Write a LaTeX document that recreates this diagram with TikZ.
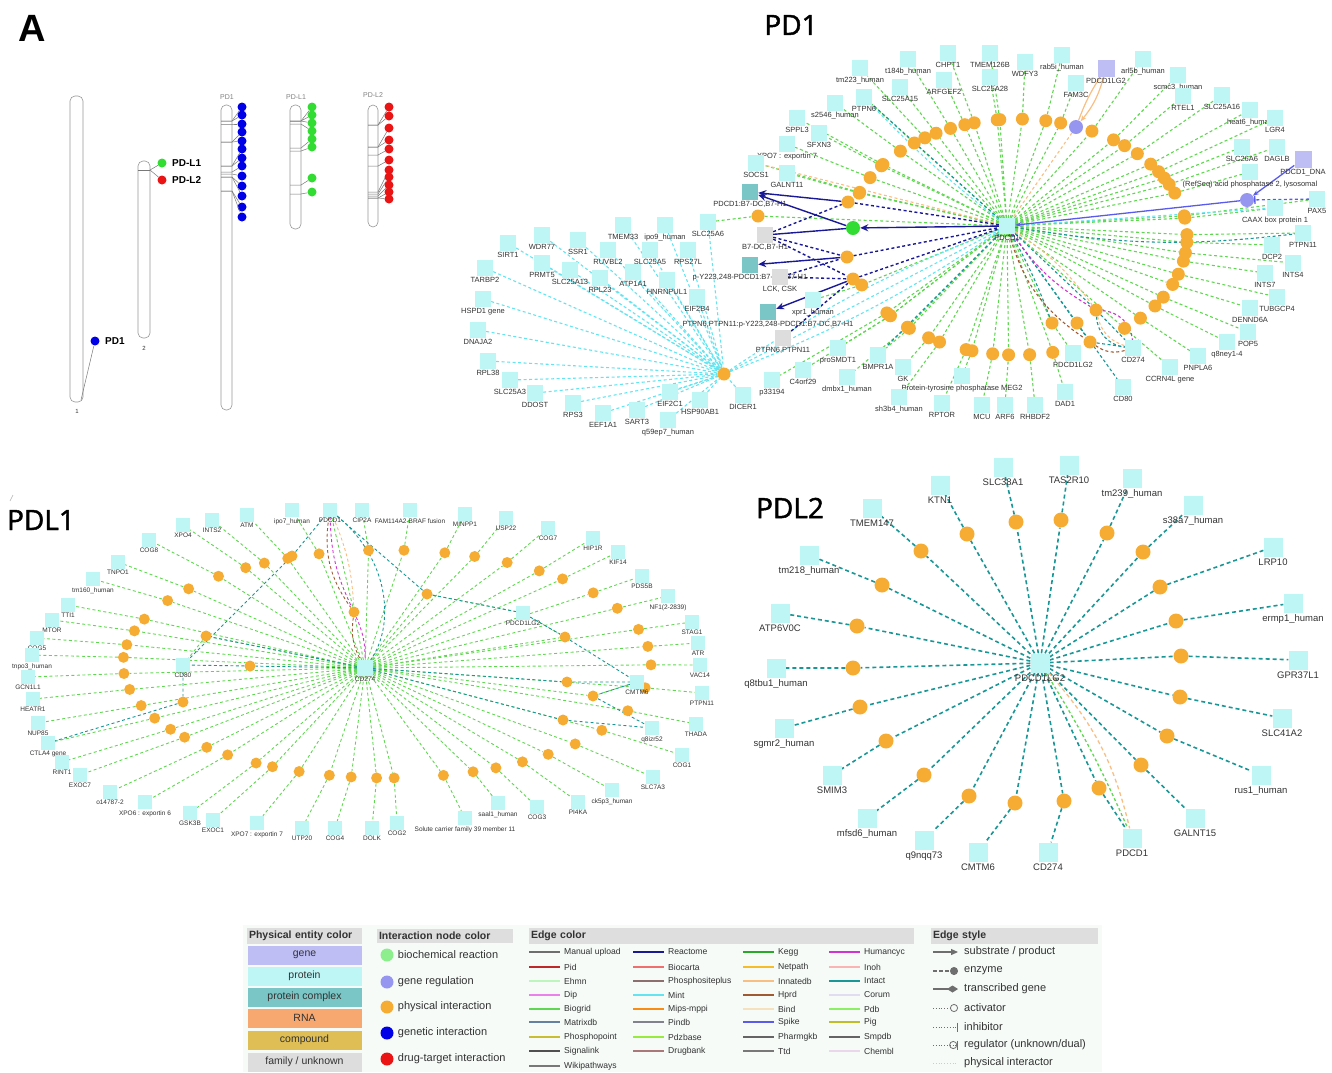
\documentclass[tikz,border=0pt]{standalone}
\usepackage{fontspec}
\setmainfont{Liberation Sans}
\newfontfamily\ttlfont[FakeBold=1.6]{Open Sans}
\usetikzlibrary{positioning,arrows.meta}

\definecolor{protc}{RGB}{190,245,245}
\definecolor{cplxc}{RGB}{122,197,197}
\definecolor{famc}{RGB}{221,221,221}
\definecolor{genec}{RGB}{190,190,245}
\definecolor{rnac}{RGB}{247,168,112}
\definecolor{cmpc}{RGB}{222,190,85}
\definecolor{orngc}{RGB}{246,172,50}
\definecolor{regc}{RGB}{150,150,240}
\definecolor{biochc}{RGB}{140,238,140}
\definecolor{rxnc}{RGB}{50,220,50}
\definecolor{genc}{RGB}{0,0,230}
\definecolor{drgtc}{RGB}{235,20,20}
\definecolor{txtc}{RGB}{50,50,50}
\definecolor{hdc}{RGB}{222,222,222}
\definecolor{legbg}{RGB}{246,251,248}
\definecolor{chrc}{RGB}{150,150,150}
% edge colours
\definecolor{manc}{RGB}{110,110,110}
\definecolor{pidc}{RGB}{190,40,40}
\definecolor{ehmc}{RGB}{190,245,190}
\definecolor{dipc}{RGB}{235,130,235}
\definecolor{biogc}{RGB}{95,215,80}
\definecolor{matc}{RGB}{100,130,160}
\definecolor{phpc}{RGB}{200,190,50}
\definecolor{sigc}{RGB}{80,80,80}
\definecolor{wikc}{RGB}{120,120,120}
\definecolor{reac}{RGB}{25,25,150}
\definecolor{bioc}{RGB}{240,110,110}
\definecolor{phsc}{RGB}{140,110,110}
\definecolor{mintc}{RGB}{100,228,240}
\definecolor{mipc}{RGB}{250,140,20}
\definecolor{pindc}{RGB}{130,130,140}
\definecolor{pdzc}{RGB}{150,235,60}
\definecolor{drgc}{RGB}{170,120,120}
\definecolor{keggc}{RGB}{40,170,40}
\definecolor{netc}{RGB}{245,190,40}
\definecolor{innc}{RGB}{248,190,130}
\definecolor{hprdc}{RGB}{160,90,50}
\definecolor{bindc}{RGB}{245,225,190}
\definecolor{spkc}{RGB}{90,90,235}
\definecolor{phgc}{RGB}{100,100,100}
\definecolor{ttdc}{RGB}{120,120,120}
\definecolor{humc}{RGB}{210,50,210}
\definecolor{inohc}{RGB}{250,180,180}
\definecolor{intc}{RGB}{25,150,150}
\definecolor{corc}{RGB}{225,220,240}
\definecolor{pdbc}{RGB}{140,240,100}
\definecolor{pigc}{RGB}{190,190,40}
\definecolor{smpc}{RGB}{100,100,100}
\definecolor{chmc}{RGB}{235,215,235}

\pgfdeclarelayer{bg}
\pgfsetlayers{bg,main}

\begin{document}
\begin{tikzpicture}[x=1pt,y=-1pt,
  prot/.style={fill=protc, minimum size=#1, inner sep=0pt}, prot/.default=16pt,
  cplx/.style={fill=cplxc, minimum size=16pt, inner sep=0pt},
  fam/.style={fill=famc, minimum size=16pt, inner sep=0pt},
  gene/.style={fill=genec, minimum size=17pt, inner sep=0pt},
  orng/.style={circle, fill=orngc, minimum size=#1, inner sep=0pt}, orng/.default=13pt,
  regn/.style={circle, fill=regc, minimum size=14pt, inner sep=0pt},
  lbl/.style={font=\fontsize{#1}{#1}\selectfont, text=txtc, inner sep=0pt}, lbl/.default=7.5,
  ttl/.style={font=\ttlfont\fontsize{28}{30}\selectfont},
  grn/.style={draw=biogc, line width=#1, dash pattern=on 3pt off 2.5pt}, grn/.default=1.1pt,
  mint/.style={draw=mintc, line width=1.1pt, dash pattern=on 3pt off 2.5pt},
  intl/.style={draw=intc, line width=#1, dash pattern=on 3pt off 2.5pt}, intl/.default=1.1pt,
  react/.style={draw=reac, line width=1.4pt, -{Stealth[length=8pt,width=7pt]}},
  reactd/.style={draw=reac, line width=1.4pt, dash pattern=on 3pt off 2.5pt},
  chrom/.style={draw=chrc, line width=0.6pt, rounded corners=5pt},
  chl/.style={draw=chrc!80!black, line width=0.5pt},
  cdot/.style={circle, minimum size=9pt, inner sep=0pt},
  lhd/.style={fill=hdc, inner xsep=2pt, minimum height=14pt, text width=#1, font=\bfseries\fontsize{10.5}{11}\selectfont, text=txtc},
  lcell/.style={minimum width=114pt, minimum height=19pt, inner sep=0pt, font=\fontsize{10.5}{11}\selectfont, text=txtc},
  ltx/.style={font=\fontsize{11}{12}\selectfont, text=txtc, inner sep=0pt},
  lsm/.style={font=\fontsize{8.6}{9}\selectfont, text=txtc, inner sep=0pt, anchor=west}]
\useasboundingbox (0,0) rectangle (1332,1072);

% ---------------- panel A: chromosomes
\node[font=\bfseries\fontsize{38}{40}\selectfont] (ttlA) at (32,28) {A};

\draw[chrom] (70,96) rectangle (83,402);
\node[lbl=6] (chr1) at (77,411) {1};
\node[cdot, fill=genc] (d1) at (95,341) {};
\node[font=\bfseries\fontsize{10}{10}\selectfont, right=2pt of d1] (d1l) {PD1};
\coordinate (c1b) at (81,400);
\draw[chl] (c1b) -- (d1);

\draw[chrom] (138,161) rectangle (150,338);
\draw[chl] (138,170) -- (150,170);
\node[lbl=6] (chr2) at (144,348) {2};
\coordinate (c2b) at (150,170);
\node[cdot, fill=rxnc] (d2) at (162,163) {};
\node[cdot, fill=drgtc] (d3) at (162,180) {};
\node[font=\bfseries\fontsize{10}{10}\selectfont, right=2pt of d2] (d2l) {PD-L1};
\node[font=\bfseries\fontsize{10}{10}\selectfont, right=2pt of d3] (d3l) {PD-L2};
\draw[chl] (c2b) -- (d2);
\draw[chl] (c2b) -- (d3);

\draw[chrom] (221,105) rectangle (232,410);
\node[lbl=7, text=gray] (cPD1) at (227,97) {PD1};
\foreach \yd/\yb [count=\n] in {107/121,115/121,124/124,132/142,141/142,149/166,158/166,166/172,176/174,186/177,196/177,207/191,217/191}{
  \node[cdot, fill=genc] (pb\n) at (242,\yd) {};
  \coordinate (pbb\n) at (232,\yb);
  \draw[chl] (221,\yb) -- (pbb\n) -- (pb\n);
}
\draw[chrom] (290,105) rectangle (301,229);
\node[lbl=7, text=gray] (cPDL1) at (296,97) {PD-L1};
\foreach \yd/\yb [count=\n] in {107/121,115/121,123/121,131/124,139/148,147/151,178/185,192/194}{
  \node[cdot, fill=rxnc] (gb\n) at (312,\yd) {};
  \coordinate (gbb\n) at (301,\yb);
  \draw[chl] (290,\yb) -- (gbb\n) -- (gb\n);
}
\draw[chrom] (368,105) rectangle (378,227);
\node[lbl=7, text=gray] (cPDL2) at (373,95) {PD-L2};
\foreach \yd/\yb [count=\n] in {107/125,116/125,128/147,140/147,149/155,160/166,170/192,177/194,185/196,192/198,199/198}{
  \node[cdot, fill=drgtc] (rb\n) at (389,\yd) {};
  \coordinate (rbb\n) at (378,\yb);
  \draw[chl] (368,\yb) -- (rbb\n) -- (rb\n);
}

% ---------------- PD1 network
\node[ttl] (tPD1) at (791,25) {PD1};
\node[prot] (pdA) at (1007,226) {};
\node[lbl, below=1pt of pdA] (pdAl) {PDCD1};

\foreach \px/\py/\nm/\txt in {860/68/tmA/tm223\_human, 908/59/tbA/t184b\_human, 948/53/chA/CHPT1,
  990/53/tnA/TMEM126B, 1025/62/wdA/WDFY3, 1062/55/rbA/rab5i\_human, 1143/59/alA/arl5b\_human,
  944/80/arA/ARFGEF2, 990/77/slA/SLC25A28, 1076/83/faA/FAM3C, 900/87/slB/SLC25A15,
  864/97/ptA/PTPN6, 835/103/ssA/s2546\_human, 797/118/spA/SPPL3, 819/133/sfA/SFXN3,
  787/144/xpA/XPO7 : exportin 7, 756/163/soA/SOCS1, 787/173/gaA/GALNT11, 1178/75/scA/scmc3\_human,
  1183/96/rtA/RTEL1, 1222/95/slC/SLC25A16, 1250/110/heA/heat6\_human, 1275/118/lgA/LGR4,
  1242/147/slD/SLC26A6, 1277/147/daA/DAGLB, 1250/172/acA/{(RefSeq) acid phosphatase 2, lysosomal},
  1317/199/paA/PAX5, 1275/208/caA/CAAX box protein 1, 1303/233/ppA/PTPN11, 1272/245/dcA/DCP2,
  1293/263/inA/INTS4, 1265/273/inB/INTS7, 1277/297/tuA/TUBGCP4, 1250/308/deA/DENND6A,
  1248/332/poA/POP5, 1227/342/qnA/q8ney1-4, 1198/356/pnA/PNPLA6, 1170/367/ccA/CCRN4L gene,
  1065/392/dmA/DAD1, 1035/405/rhA/RHBDF2, 1005/405/afA/ARF6, 982/405/mcA/MCU,
  962/376/mgA/Protein-tyrosine phosphatase MEG2, 942/403/rpA/RPTOR, 899/397/shA/sh3b4\_human,
  903/367/gkA/GK, 878/355/bmA/BMPR1A, 847/377/dxA/dmbx1\_human, 838/348/prA/proSMDT1,
  803/370/c4A/C4orf29, 772/380/p3A/p33194, 813/300/xrA/xpr1\_human}{
  \node[prot] (a\nm) at (\px,\py) {};
  \node[lbl, below=1pt of a\nm] (al\nm) {\txt};
  \pgfmathsetmacro\ang{atan2((\py-237)/118,(\px-1017)/170)}
  \pgfmathsetmacro\ox{1017+170*cos(\ang)}
  \pgfmathsetmacro\oy{237+118*sin(\ang)}
  \node[orng] (ao\nm) at (\ox,\oy) {};
  \begin{pgfonlayer}{bg}
    \draw[grn] (pdA) -- (ao\nm) -- (a\nm);
  \end{pgfonlayer}
}

% left fan
\node[orng] (hub) at (724,374) {};
\foreach \px/\py/\txt [count=\n] in {508/243/SIRT1, 542/235/WDR77, 578/240/SSR1, 623/225/TMEM33,
  665/225/ipo9\_human, 708/222/SLC25A6, 485/268/TARBP2, 542/263/PRMT5, 608/250/RUVBL2,
  650/250/SLC25A5, 688/250/RPS27L, 570/270/SLC25A13, 600/278/RPL23, 633/272/ATP1A1,
  667/280/HNRNPUL1, 697/297/EIF2B4, 483/299/HSPD1 gene, 478/330/DNAJA2, 488/361/RPL38,
  510/380/SLC25A3, 535/393/DDOST, 573/403/RPS3, 603/413/EEF1A1, 637/410/SART3,
  668/420/q59ep7\_human, 670/392/EIF2C1, 700/400/HSP90AB1, 743/395/DICER1}{
  \node[prot] (h\n) at (\px,\py) {};
  \node[lbl, below=1pt of h\n] (hl\n) {\txt};
  \begin{pgfonlayer}{bg}
    \draw[mint] (h\n) -- (hub);
  \end{pgfonlayer}
}
\node[orng] (oS6) at (758,216) {};

% reactions
\node[cplx] (c1) at (750,192) {};
\node[lbl, below=1pt of c1] (c1l) {PDCD1:B7-DC,B7-H1};
\node[fam] (g1) at (765,235) {};
\node[lbl, below=1pt of g1] (g1l) {B7-DC,B7-H1};
\node[cplx] (c2) at (750,265) {};
\node[lbl, below=1pt of c2] (c2l) {p-Y223,248-PDCD1:B7-DC,B7-H1};
\node[fam] (g2) at (780,277) {};
\node[lbl, below=1pt of g2] (g2l) {LCK, CSK};
\node[cplx] (c3) at (768,312) {};
\node[lbl, below=1pt of c3] (c3l) {PTPN6,PTPN11:p-Y223,248-PDCD1:B7-DC,B7-H1};
\node[fam] (g3) at (783,338) {};
\node[lbl, below=1pt of g3] (g3l) {PTPN6,PTPN11};
\node[orng] (r1) at (848,202) {};
\node[circle, fill=rxnc, minimum size=14pt, inner sep=0pt] (rg) at (853,228) {};
\node[orng] (r2) at (847,257) {};
\node[orng] (r3) at (853,279) {};

% gene regulation
\node[gene] (gPL2) at (1106,68) {};
\node[lbl, below=1pt of gPL2] (gPL2l) {PDCD1LG2};
\node[regn] (lr1) at (1076,127) {};
\node[gene] (gPD1) at (1303,159) {};
\node[lbl, below=1pt of gPD1] (gPD1l) {PDCD1\_DNA};
\node[regn] (lr2) at (1247,200) {};

% ligands
\node[orng] (i1) at (1096,310) {};
\node[orng] (i2) at (1077,323) {};
\node[orng] (i3) at (1052,323) {};
\node[orng] (i4) at (1090,342) {};
\node[prot] (pPL2) at (1073,353) {};
\node[lbl, below=1pt of pPL2] (pPL2l) {PDCD1LG2};
\node[prot] (pCD274) at (1133,348) {};
\node[lbl, below=1pt of pCD274] (pCD274l) {CD274};
\node[prot] (pCD80) at (1123,387) {};
\node[lbl, below=1pt of pCD80] (pCD80l) {CD80};

\begin{pgfonlayer}{bg}
  \draw[mint] (hub) to[bend left=6] (pdA);
  \draw[mint] (hub) -- (pdA);
  \draw[mint] (hub) to[bend right=6] (pdA);
  \draw[grn] (h6) -- (oS6) -- (pdA);
  \draw[intl] (pdA) -- (aptA);
  \draw[mint] (pdA) to[bend left=4] (aptA);
  \draw[intl] (pdA) to[bend right=8] (appA);
  \draw[mint] (pdA) -- (acaA);
  \draw[intl] (pdA) -- (abmA);
  \draw[draw=innc, line width=1.1pt, dash pattern=on 3pt off 2.5pt] (pdA) -- (asoA);
  % reactome
  \draw[react] (r1) -- (c1);
  \draw[react] (rg) -- (c1);
  \draw[react] (pdA) -- (rg);
  \draw[draw=reac, line width=1.4pt] (g1) -- (rg);
  \draw[react] (r2) -- (c2);
  \draw[react] (r3) -- (c3);
  \draw[reactd] (r1) -- (pdA);
  \draw[reactd] (g1) -- (r1);
  \draw[reactd] (g1) -- (r2);
  \draw[reactd] (g1) -- (r3);
  \draw[reactd] (r2) -- (pdA);
  \draw[reactd] (r3) -- (pdA);
  \draw[reactd] (g2) -- (r2);
  \draw[reactd] (g2) -- (r3);
  \draw[reactd] (g3) -- (r3);
  % regulation
  \draw[draw=innc, line width=1.2pt, -{Stealth[length=6pt]}] (gPL2) to[bend left=12] (lr1);
  \draw[draw=innc, line width=1.2pt] (gPL2) to[bend right=6] (lr1);
  \draw[draw=innc, line width=1.1pt, dash pattern=on 3pt off 2.5pt] (lr1) -- (pdA);
  \draw[draw=spkc, line width=1.3pt, -{Stealth[length=6pt]}] (gPD1) -- (lr2);
  \draw[draw=spkc, line width=1.3pt, -{Stealth[length=6pt]}] (lr2) -- (pdA);
  \draw[draw=spkc, line width=1.3pt, dash pattern=on 3pt off 2.5pt, -{Bar[width=8pt]}] (apaA) -- (lr2);
  % ligands
  \draw[grn] (pdA) -- (i3) -- (pPL2);
  \draw[intl] (pdA) to[bend left=4] (i3);
  \draw[intl] (pdA) -- (i1) -- (pCD274);
  \draw[intl] (pdA) -- (i4) -- (pCD274);
  \draw[intl] (pdA) -- (i2) -- (pCD80);
  \draw[draw=humc, line width=1.1pt, dash pattern=on 3pt off 2.5pt] (pdA) to[bend right=12] (i1);
  \draw[draw=humc, line width=1.1pt, dash pattern=on 3pt off 2.5pt] (i1) to[bend left=40] (pCD274);
  \draw[draw=hprdc, line width=1.1pt, dash pattern=on 3pt off 2.5pt] (pdA) to[bend right=20] (i4);
  \draw[draw=hprdc, line width=1.1pt, dash pattern=on 3pt off 2.5pt] (i4) to[bend right=25] (pCD274);
  \draw[draw=innc, line width=1.1pt, dash pattern=on 3pt off 2.5pt] (pdA) to[bend left=10] (i1);
  \draw[draw=innc, line width=1.1pt, dash pattern=on 3pt off 2.5pt] (i1) to[bend right=30] (pCD274);
  \draw[intl] (i1) to[bend right=40] (pCD274);
\end{pgfonlayer}

% ---------------- PDL1 network
\draw[gray!60, line width=0.6pt] (10,501) -- (13,495);
\node[ttl] (tPDL1) at (41,520) {PDL1};
\node[prot=16pt] (cB) at (365,668) {};
\node[lbl=6.5, below=1pt of cB] (cBl) {CD274};
\foreach \px/\py/\nm/\txt in {292/510/ipB/ipo7\_human, 247/515/atB/ATM, 212/520/isB/INTS2,
  183/525/xpB/XPO4, 149/540/cgB/COG8, 118/562/tnB/TNPO1, 93/579/tmB/tm160\_human, 68/605/ttB/TTI1,
  52/620/mtB/MTOR, 37/638/cfB/COG5, 32/655/tpB/tnpo3\_human, 28/677/gcB/GCN1L1, 33/699/heB/HEATR1,
  38/723/nuB/NUP85, 48/743/ctB/CTLA4 gene, 62/762/riB/RINT1, 80/775/exB/EXOC7, 110/792/okB/o14787-2,
  145/802/xsB/XPO6 : exportin 6, 190/813/gsB/GSK3B, 213/820/eoB/EXOC1, 257/823/xvB/XPO7 : exportin 7,
  302/828/utB/UTP20, 335/828/cdB/COG4, 372/828/doB/DOLK, 397/823/cbB/COG2,
  465/818/scB/Solute carrier family 39 member 11, 498/803/saB/saal1\_human, 537/807/ccB/COG3,
  578/802/piB/PI4KA, 612/790/ckB/ck5p3\_human, 653/777/svB/SLC7A3, 682/755/caB/COG1,
  696/724/thB/THADA, 702/693/pnB/PTPN11, 700/665/vaB/VAC14, 698/643/arB/ATR, 692/622/stB/STAG1,
  668/596/nfB/NF1(2-2839), 642/576/pdB/PDS5B, 618/552/kiB/KIF14, 593/538/hiB/HIP1R, 548/528/chB/COG7,
  506/518/usB/USP22, 465/514/miB/MINPP1, 410/510/faB/FAM114A2-BRAF fusion, 362/510/ciB/CIP2A}{
  \node[prot=14pt] (b\nm) at (\px,\py) {};
  \node[lbl=6.5, below=1pt of b\nm] (bl\nm) {\txt};
  \pgfmathsetmacro\ang{atan2((\py-664)/114,(\px-387)/264)}
  \pgfmathsetmacro\ox{387+264*cos(\ang)}
  \pgfmathsetmacro\oy{664+114*sin(\ang)}
  \node[orng=11pt] (bo\nm) at (\ox,\oy) {};
  \begin{pgfonlayer}{bg}
    \draw[grn=0.9pt] (cB) -- (bo\nm) -- (b\nm);
  \end{pgfonlayer}
}
\node[prot=14pt] (bPD1) at (330,510) {};
\node[lbl=6.5, below=1pt of bPD1] (bPD1l) {PDCD1};
\node[prot=14pt] (bCD80) at (183,665) {};
\node[lbl=6.5, below=1pt of bCD80] (bCD80l) {CD80};
\node[prot=14pt] (bPL2) at (523,613) {};
\node[lbl=6.5, below=1pt of bPL2] (bPL2l) {PDCD1LG2};
\node[prot=14pt] (bCM) at (637,682) {};
\node[lbl=6.5, below=1pt of bCM] (bCMl) {CMTM6};
\node[prot=14pt] (bQ8) at (652,728) {};
\node[lbl=6.5, below=1pt of bQ8] (bQ8l) {q8izr52};
\node[orng=11pt] (j1) at (354,612) {};
\node[orng=11pt] (j2) at (206,636) {};
\node[orng=11pt] (j3) at (250,666) {};
\node[orng=11pt] (j4) at (183,702) {};
\node[orng=11pt] (j5) at (427,594) {};
\node[orng=11pt] (j6) at (565,637) {};
\node[orng=11pt] (j7) at (567,682) {};
\node[orng=11pt] (j8) at (593,696) {};
\node[orng=11pt] (j9) at (563,720) {};
\node[orng=11pt] (j10) at (292,556) {};
\begin{pgfonlayer}{bg}
  \draw[grn=0.9pt] (cB) -- (j1) -- (bPD1);
  \draw[grn=0.9pt] (cB) -- (j2) -- (bCD80);
  \draw[grn=0.9pt] (cB) -- (j5) -- (bPL2);
  \draw[grn=0.9pt] (cB) -- (j6) -- (bPL2);
  \draw[grn=0.9pt] (cB) -- (j8) -- (bCM);
  \draw[intl=0.9pt] (bCD80) -- (j10) -- (bPD1);
  \draw[intl=0.9pt] (bCD80) -- (j4) -- (bctB);
  \draw[intl=0.9pt] (cB) -- (j3) -- (bCD80);
  \draw[intl=0.9pt] (cB) -- (j2);
  \draw[intl=0.9pt] (bPD1) -- (j5) -- (bPL2);
  \draw[intl=0.9pt] (bPL2) -- (j6) -- (bCM);
  \draw[intl=0.9pt] (cB) -- (j7) -- (bCM);
  \draw[intl=0.9pt] (bCM) -- (j8) -- (bQ8);
  \draw[intl=0.9pt] (cB) -- (j9) -- (bQ8);
  \draw[draw=humc, line width=0.9pt, dash pattern=on 3pt off 2.5pt] (bPD1) to[bend right=12] (j1);
  \draw[draw=humc, line width=0.9pt, dash pattern=on 3pt off 2.5pt] (j1) to[bend left=12] (cB);
  \draw[draw=hprdc, line width=0.9pt, dash pattern=on 3pt off 2.5pt] (bPD1) to[bend right=22] (j1);
  \draw[draw=hprdc, line width=0.9pt, dash pattern=on 3pt off 2.5pt] (j1) to[bend right=18] (cB);
  \draw[draw=innc, line width=0.9pt, dash pattern=on 3pt off 2.5pt] (bPD1) to[bend left=10] (j1);
  \draw[intl=0.9pt] (bPD1) .. controls (390,560) and (395,625) .. (cB);
\end{pgfonlayer}

% ---------------- PDL2 network
\node[ttl] (tPDL2) at (790,508) {PDL2};
\node[prot=19pt] (dC) at (1040,663) {};
\node[lbl=9.5, below=2pt of dC] (dCl) {PDCD1LG2};
\foreach \px/\py/\ox/\oy/\txt [count=\n] in {940/485/967/534/KTN1, 1003/467/1016/522/SLC38A1,
  1069/465/1061/520/TAS2R10, 1132/478/1107/533/tm239\_human, 1193/505/1143/552/s38a7\_human,
  1273/547/1160/587/LRP10, 1293/603/1176/621/ermp1\_human, 1298/660/1181/656/GPR37L1,
  1282/718/1180/697/SLC41A2, 1261/775/1167/736/rus1\_human, 1195/818/1141/765/GALNT15,
  1132/838/1099/788/PDCD1, 1048/852/1064/801/CD274, 978/852/1015/803/CMTM6,
  924/840/969/796/q9nqq73, 867/818/924/775/mfsd6\_human, 832/775/886/741/SMIM3,
  784/728/860/707/sgmr2\_human, 776/668/853/668/q8tbu1\_human, 780/613/857/626/ATP6V0C,
  809/555/882/585/tm218\_human, 872/508/921/551/TMEM147}{
  \node[prot=19pt] (e\n) at (\px,\py) {};
  \node[lbl=9.5, below=2pt of e\n] (el\n) {\txt};
  \node[orng=15pt] (eo\n) at (\ox,\oy) {};
  \begin{pgfonlayer}{bg}
    \draw[intl=1.6pt, dash pattern=on 4pt off 3pt] (dC) -- (eo\n) -- (e\n);
  \end{pgfonlayer}
}
\begin{pgfonlayer}{bg}
  \draw[grn=1.3pt] (dC) to[bend left=4] (e12);
  \draw[draw=innc, line width=1.3pt, dash pattern=on 4pt off 3pt] (dC) to[bend left=14] (e12);
\end{pgfonlayer}

% ---------------- legend
\fill[legbg] (243,925) rectangle (1102,1072);
\node[lhd=111pt] (hPE) at (304.5,936) {Physical entity color};
\foreach \yc/\cl/\txt [count=\n] in {955/genec/gene, 976/protc/protein, 997/cplxc/protein complex,
  1018/rnac/RNA, 1040/cmpc/compound, 1062/famc/{family / unknown}}
  \node[lcell, fill=\cl] (pe\n) at (304.5,\yc) {\txt};

\node[lhd=132pt] (hIN) at (445,936) {Interaction node color};
\foreach \yc/\cl/\txt [count=\n] in {955/biochc/biochemical reaction, 982/regc/gene regulation,
  1007/orngc/physical interaction, 1033/genc/genetic interaction, 1059/drgtc/drug-target interaction}{
  \node[circle, fill=\cl, minimum size=13pt, inner sep=0pt] (in\n) at (387,\yc) {};
  \node[ltx, right=4pt of in\n] (inl\n) {\txt};
}

\node[lhd=381pt] (hEC) at (721.5,936) {Edge color};
\foreach \xc/\yc/\cl/\txt [count=\n] in {529/952/manc/Manual upload, 529/967/pidc/Pid, 529/981/ehmc/Ehmn,
  529/995/dipc/Dip, 529/1009/biogc/Biogrid, 529/1022/matc/Matrixdb, 529/1037/phpc/Phosphopoint,
  529/1051/sigc/Signalink, 529/1066/wikc/Wikipathways,
  633/952/reac/Reactome, 633/967/bioc/Biocarta, 633/981/phsc/Phosphositeplus, 633/995/mintc/Mint,
  633/1009/mipc/Mips-mppi, 633/1022/pindc/Pindb, 633/1037/pdzc/Pdzbase, 633/1051/drgc/Drugbank,
  743/952/keggc/Kegg, 743/967/netc/Netpath, 743/981/innc/Innatedb, 743/995/hprdc/Hprd,
  743/1009/bindc/Bind, 743/1022/spkc/Spike, 743/1037/phgc/Pharmgkb, 743/1051/ttdc/Ttd,
  829/952/humc/Humancyc, 829/967/inohc/Inoh, 829/981/intc/Intact, 829/995/corc/Corum,
  829/1009/pdbc/Pdb, 829/1022/pigc/Pig, 829/1037/smpc/Smpdb, 829/1051/chmc/Chembl}{
  \draw[\cl, line width=1.3pt] (\xc,\yc) -- ++(31,0);
  \node[lsm] (ec\n) at (\xc+35,\yc) {\txt};
}

\node[lhd=163pt] (hES) at (1014.5,936) {Edge style};
\draw[manc, line width=1.2pt, -{Triangle[length=7pt,width=6pt]}] (933,952) -- (958,952);
\node[ltx, anchor=west] (es1) at (964,952) {substrate / product};
\draw[manc, line width=1.2pt, dash pattern=on 4pt off 2pt, -{Circle[length=8pt]}] (933,971) -- (958,971);
\node[ltx, anchor=west] (es2) at (964,971) {enzyme};
\draw[manc, line width=1.2pt, -{Diamond[length=11pt,width=7pt]}] (933,989) -- (958,989);
\node[ltx, anchor=west] (es3) at (964,989) {transcribed gene};
\draw[manc, line width=0.8pt, dotted, -{Circle[open,length=8pt]}] (933,1008) -- (958,1008);
\node[ltx, anchor=west] (es4) at (964,1008) {activator};
\draw[manc, line width=0.8pt, dotted, -{Bar[width=9pt]}] (933,1027) -- (958,1027);
\node[ltx, anchor=west] (es5) at (964,1027) {inhibitor};
\draw[manc, line width=0.8pt, dotted, -{Circle[open,length=8pt] Bar[width=9pt]}] (933,1045) -- (958,1045);
\node[ltx, anchor=west] (es6) at (964,1045) {regulator (unknown/dual)};
\draw[gray!40, line width=0.8pt, dotted] (933,1063) -- (958,1063);
\node[ltx, anchor=west] (es7) at (964,1063) {physical interactor};
\end{tikzpicture}
\end{document}
